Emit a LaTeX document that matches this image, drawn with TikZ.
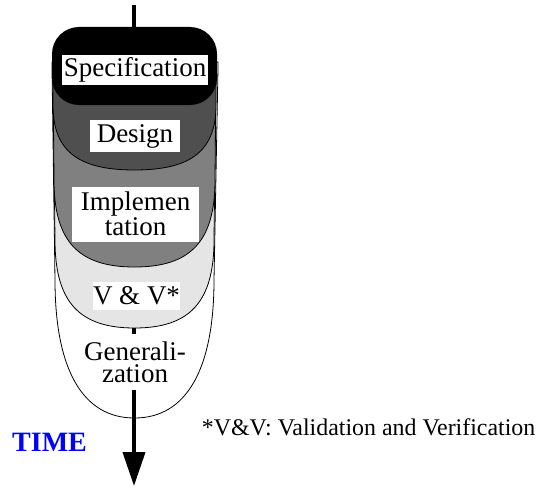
\documentclass[tikz,border=0pt]{standalone}
\usepackage{fontspec}
\setmainfont{Liberation Serif}
\usetikzlibrary{arrows.meta}
\definecolor{designgray}{gray}{0.31}
\definecolor{implgray}{gray}{0.5}
\definecolor{vvgray}{gray}{0.9}
\definecolor{timeblue}{RGB}{0,0,255}

\begin{document}
\begin{tikzpicture}[x=1pt,y=-1pt,
  phase/.style={draw=black, line width=0.8pt},
  tag/.style={fill=white, inner sep=0pt, align=center,
    font=\fontsize{27}{21}\selectfont},
  timeline/.style={line width=4pt, -{Triangle[width=22pt,length=34pt]}},
  ]
\useasboundingbox (0,0) rectangle (537,487);

% outermost phase: generalization (white)
\path[phase, fill=white] (52,62) -- (52,68) -- (55,280)
  .. controls (55,369.7) and (82.8,418) .. (134.5,418)
  .. controls (186.2,418) and (214,369.7) .. (214,280) -- (218,68) -- (218,62) -- cycle;

% time axis
\coordinate (tstart) at (134,5);
\coordinate (tend) at (134,486);
\draw[timeline] (tstart) -- (tend);

% V&V phase (light gray)
\path[phase, fill=vvgray] (53,62) -- (53,68) -- (55,240)
  .. controls (55,301.6) and (78.9,328) .. (134.5,328)
  .. controls (190.1,328) and (214,301.6) .. (214,240) -- (216,68) -- (216,62) -- cycle;

% implementation phase (mid gray)
\path[phase, fill=implgray] (53,62) -- (53,68) -- (54,180)
  .. controls (54,241) and (78,267) .. (134.5,267)
  .. controls (191,267) and (215,241) .. (215,180) -- (216,68) -- (216,62) -- cycle;

% design phase (dark gray)
\path[phase, fill=designgray] (53,62) -- (53,105)
  .. controls (53,150.5) and (77.5,170) .. (134.5,170)
  .. controls (191.5,170) and (216,150.5) .. (216,105) -- (216,62) -- cycle;

% specification phase (black cap)
\fill[black, rounded corners=27pt] (52,27) rectangle (217,105);

% phase labels
\node[tag, minimum width=146pt, minimum height=30pt] (spec) at (135,70) {Specification};
\node[tag, minimum width=90pt, minimum height=32pt] (design) at (135,136) {Design};
\node[tag, minimum width=127pt, minimum height=55pt, font=\fontsize{27}{20}\selectfont] (impl) at (135.5,214) {Implemen\\tation};
\node[tag, minimum width=87pt, minimum height=28pt] (vv) at (136.5,296) {V \& V*};
\node[tag, minimum width=104pt, minimum height=56pt, font=\fontsize{27}{22}\selectfont] (gen) at (135,362) {Generali-\\zation};

% axis caption and footnote
\node[font=\bfseries\fontsize{28}{30}\selectfont, text=timeblue, anchor=base west, inner sep=0pt] (time) at (12,451.7) {TIME};
\node[font=\fontsize{23.9}{28}\selectfont, anchor=base west, inner sep=0pt] (note) at (201.7,435) {*V\&V: Validation and Verification};
\end{tikzpicture}
\end{document}
